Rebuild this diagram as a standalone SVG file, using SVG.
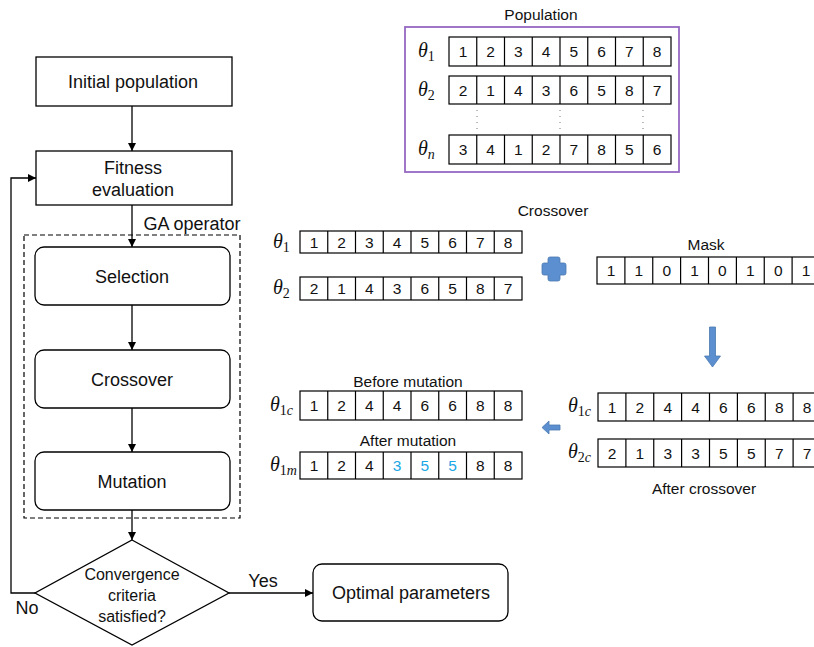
<svg xmlns="http://www.w3.org/2000/svg" width="814" height="647" viewBox="0 0 814 647">
  <defs>
    <style>
      .box { fill: #fff; stroke: #000; stroke-width: 1.3; }
      .cell { fill: #fff; stroke: #000; stroke-width: 1.2; }
      .sep { stroke: #000; stroke-width: 1.2; }
      .t { font-family: "Liberation Sans", Arial, sans-serif; font-size: 18px; fill: #111; text-anchor: middle; }
      .ts { font-size: 16px; }
      .n { font-family: "Liberation Sans", Arial, sans-serif; font-size: 15.5px; fill: #111; text-anchor: middle; }
      .cap { font-family: "Liberation Sans", Arial, sans-serif; font-size: 15.5px; fill: #111; text-anchor: middle; }
      .hi { fill: #1aa7e6; }
      .lbl { font-family: "Liberation Serif", "Times New Roman", serif; font-style: italic; font-size: 20px; fill: #111; }
      .sub { font-size: 14px; }
      .up { font-style: normal; }
      .line { fill: none; stroke: #000; stroke-width: 1.3; }
      .blue { fill: #5b8fd0; stroke: #4a78b0; stroke-width: 0.8; }
    </style>
    <marker id="arr" viewBox="0 0 10 10" refX="10" refY="5" markerWidth="8" markerHeight="8" markerUnits="userSpaceOnUse" orient="auto">
      <path d="M0,0 L10,5 L0,10 z" fill="#000"/>
    </marker>
  </defs>
  <rect width="814" height="647" fill="#fff"/>

  <!-- Flowchart connectors -->
  <g id="connectors">
    <line class="line" x1="132" y1="106" x2="132" y2="151" marker-end="url(#arr)"/>
    <line class="line" x1="132" y1="205" x2="132" y2="247" marker-end="url(#arr)"/>
    <line class="line" x1="132" y1="305" x2="132" y2="350" marker-end="url(#arr)"/>
    <line class="line" x1="132" y1="408" x2="132" y2="452" marker-end="url(#arr)"/>
    <line class="line" x1="132" y1="510" x2="132" y2="540" marker-end="url(#arr)"/>
    <polyline class="line" points="35,593 11,593 11,178 36,178" marker-end="url(#arr)"/>
    <line class="line" x1="229" y1="593" x2="313" y2="593" marker-end="url(#arr)"/>
    <text class="t" x="27" y="614">No</text>
    <text class="t" x="263" y="587">Yes</text>
  </g>

  <!-- GA operator group outline -->
  <g id="ga-operator">
    <rect x="24" y="235" width="216" height="283" fill="none" stroke="#000" stroke-width="1.2" stroke-dasharray="5,3"/>
    <text class="t" x="192" y="230">GA operator</text>
  </g>

  <g id="initial-population">
    <rect class="box" x="36" y="57" width="196" height="49"/>
    <text class="t" x="133" y="88">Initial population</text>
  </g>
  <g id="fitness-evaluation">
    <rect class="box" x="36" y="151" width="196" height="54"/>
    <text class="t" x="133" y="174">Fitness</text>
    <text class="t" x="133" y="196">evaluation</text>
  </g>
  <g id="selection">
    <rect class="box" x="35" y="247" width="195" height="58" rx="9"/>
    <text class="t" x="132" y="283">Selection</text>
  </g>
  <g id="crossover">
    <rect class="box" x="35" y="350" width="195" height="58" rx="9"/>
    <text class="t" x="132" y="386">Crossover</text>
  </g>
  <g id="mutation">
    <rect class="box" x="35" y="452" width="195" height="58" rx="9"/>
    <text class="t" x="132" y="488">Mutation</text>
  </g>
  <g id="convergence">
    <polygon class="box" points="132,540 229,593 132,645 35,593"/>
    <text class="t ts" x="132" y="580">Convergence</text>
    <text class="t ts" x="132" y="601">criteria</text>
    <text class="t ts" x="132" y="622">satisfied?</text>
  </g>
  <g id="optimal-parameters">
    <rect class="box" x="313" y="564" width="195" height="57" rx="9"/>
    <text class="t" x="411" y="599">Optimal parameters</text>
  </g>

  <!-- Population panel -->
  <g id="population">
    <text class="cap" x="541" y="20">Population</text>
    <rect x="405" y="27" width="274" height="145" fill="none" stroke="#9568c2" stroke-width="1.8"/>
    <!-- row theta_1 -->
    <text class="lbl" x="418" y="57">θ<tspan class="sub up" dy="4">1</tspan></text>
    <rect class="cell" x="449" y="37" width="222" height="29"/>
    <path class="sep" d="M476.75,37v29M504.5,37v29M532.25,37v29M560,37v29M587.75,37v29M615.5,37v29M643.25,37v29"/>
    <g class="n">
      <text x="463" y="57">1</text><text x="490.6" y="57">2</text><text x="518.4" y="57">3</text><text x="546.1" y="57">4</text>
      <text x="573.9" y="57">5</text><text x="601.6" y="57">6</text><text x="629.4" y="57">7</text><text x="657.1" y="57">8</text>
    </g>
    <!-- row theta_2 -->
    <text class="lbl" x="418" y="96">θ<tspan class="sub up" dy="4">2</tspan></text>
    <rect class="cell" x="449" y="76" width="222" height="28"/>
    <path class="sep" d="M476.75,76v28M504.5,76v28M532.25,76v28M560,76v28M587.75,76v28M615.5,76v28M643.25,76v28"/>
    <g class="n">
      <text x="463" y="95.5">2</text><text x="490.6" y="95.5">1</text><text x="518.4" y="95.5">4</text><text x="546.1" y="95.5">3</text>
      <text x="573.9" y="95.5">6</text><text x="601.6" y="95.5">5</text><text x="629.4" y="95.5">8</text><text x="657.1" y="95.5">7</text>
    </g>
    <!-- ellipsis -->
    <path d="M477,110v22M560,110v22M643,110v22" stroke="#777" stroke-width="1" stroke-dasharray="1,5"/>
    <!-- row theta_n -->
    <text class="lbl" x="418" y="155">θ<tspan class="sub" dy="4">n</tspan></text>
    <rect class="cell" x="449" y="135" width="222" height="29"/>
    <path class="sep" d="M476.75,135v29M504.5,135v29M532.25,135v29M560,135v29M587.75,135v29M615.5,135v29M643.25,135v29"/>
    <g class="n">
      <text x="463" y="155">3</text><text x="490.6" y="155">4</text><text x="518.4" y="155">1</text><text x="546.1" y="155">2</text>
      <text x="573.9" y="155">7</text><text x="601.6" y="155">8</text><text x="629.4" y="155">5</text><text x="657.1" y="155">6</text>
    </g>
  </g>

  <!-- Crossover parents -->
  <g id="crossover-parents">
    <text class="cap" x="553" y="216">Crossover</text>
    <text class="lbl" x="273" y="248">θ<tspan class="sub up" dy="4">1</tspan></text>
    <rect class="cell" x="300" y="231" width="222" height="22"/>
    <path class="sep" d="M327.75,231v22M355.5,231v22M383.25,231v22M411,231v22M438.75,231v22M466.5,231v22M494.25,231v22"/>
    <g class="n">
      <text x="314" y="247.5">1</text><text x="341.6" y="247.5">2</text><text x="369.4" y="247.5">3</text><text x="397.1" y="247.5">4</text>
      <text x="424.9" y="247.5">5</text><text x="452.6" y="247.5">6</text><text x="480.4" y="247.5">7</text><text x="508.1" y="247.5">8</text>
    </g>
    <text class="lbl" x="273" y="294">θ<tspan class="sub up" dy="4">2</tspan></text>
    <rect class="cell" x="300" y="277" width="222" height="23"/>
    <path class="sep" d="M327.75,277v23M355.5,277v23M383.25,277v23M411,277v23M438.75,277v23M466.5,277v23M494.25,277v23"/>
    <g class="n">
      <text x="314" y="294">2</text><text x="341.6" y="294">1</text><text x="369.4" y="294">4</text><text x="397.1" y="294">3</text>
      <text x="424.9" y="294">6</text><text x="452.6" y="294">5</text><text x="480.4" y="294">8</text><text x="508.1" y="294">7</text>
    </g>
  </g>

  <!-- Plus sign -->
  <path class="blue" d="M550,257h8q2,0 2,2v4h4q2,0 2,2v8q0,2 -2,2h-4v4q0,2 -2,2h-8q-2,0 -2,-2v-4h-4q-2,0 -2,-2v-8q0,-2 2,-2h4v-4q0,-2 2,-2z"/>

  <!-- Mask -->
  <g id="mask">
    <text class="cap" x="706" y="250">Mask</text>
    <rect class="cell" x="597" y="257" width="223" height="27"/>
    <path class="sep" d="M624.9,257v27M652.75,257v27M680.6,257v27M708.5,257v27M736.4,257v27M764.25,257v27M792.1,257v27"/>
    <g class="n">
      <text x="611" y="276">1</text><text x="638.8" y="276">1</text><text x="666.7" y="276">0</text><text x="694.6" y="276">1</text>
      <text x="722.4" y="276">0</text><text x="750.3" y="276">1</text><text x="778.2" y="276">0</text><text x="806" y="276">1</text>
    </g>
  </g>

  <!-- Down arrow -->
  <path class="blue" d="M709.5,327h6v29h5l-8,11l-8,-11h5z"/>

  <!-- After crossover -->
  <g id="after-crossover">
    <text class="lbl" x="568" y="412">θ<tspan class="sub" dy="4"><tspan class="up">1</tspan>c</tspan></text>
    <rect class="cell" x="598" y="393" width="223" height="28"/>
    <path class="sep" d="M625.9,393v28M653.75,393v28M681.6,393v28M709.5,393v28M737.4,393v28M765.25,393v28M793.1,393v28"/>
    <g class="n">
      <text x="612" y="412.5">1</text><text x="639.8" y="412.5">2</text><text x="667.7" y="412.5">4</text><text x="695.6" y="412.5">4</text>
      <text x="723.4" y="412.5">6</text><text x="751.3" y="412.5">6</text><text x="779.2" y="412.5">8</text><text x="807" y="412.5">8</text>
    </g>
    <text class="lbl" x="568" y="458">θ<tspan class="sub" dy="4"><tspan class="up">2</tspan>c</tspan></text>
    <rect class="cell" x="598" y="439" width="223" height="28"/>
    <path class="sep" d="M625.9,439v28M653.75,439v28M681.6,439v28M709.5,439v28M737.4,439v28M765.25,439v28M793.1,439v28"/>
    <g class="n">
      <text x="612" y="458.5">2</text><text x="639.8" y="458.5">1</text><text x="667.7" y="458.5">3</text><text x="695.6" y="458.5">3</text>
      <text x="723.4" y="458.5">5</text><text x="751.3" y="458.5">5</text><text x="779.2" y="458.5">7</text><text x="807" y="458.5">7</text>
    </g>
    <text class="cap" x="704" y="494">After crossover</text>
  </g>

  <!-- Left arrow -->
  <path class="blue" d="M560,425v5h-11v4l-7,-6.5l7,-6.5v4z"/>

  <!-- Mutation example -->
  <g id="mutation-example">
    <text class="cap" x="408" y="387">Before mutation</text>
    <text class="lbl" x="270" y="411">θ<tspan class="sub" dy="4"><tspan class="up">1</tspan>c</tspan></text>
    <rect class="cell" x="300" y="391" width="222" height="29"/>
    <path class="sep" d="M327.75,391v29M355.5,391v29M383.25,391v29M411,391v29M438.75,391v29M466.5,391v29M494.25,391v29"/>
    <g class="n">
      <text x="314" y="411">1</text><text x="341.6" y="411">2</text><text x="369.4" y="411">4</text><text x="397.1" y="411">4</text>
      <text x="424.9" y="411">6</text><text x="452.6" y="411">6</text><text x="480.4" y="411">8</text><text x="508.1" y="411">8</text>
    </g>
    <text class="cap" x="408" y="446">After mutation</text>
    <text class="lbl" x="270" y="471">θ<tspan class="sub" dy="4"><tspan class="up">1</tspan>m</tspan></text>
    <rect class="cell" x="300" y="452" width="222" height="27"/>
    <path class="sep" d="M327.75,452v27M355.5,452v27M383.25,452v27M411,452v27M438.75,452v27M466.5,452v27M494.25,452v27"/>
    <g class="n">
      <text x="314" y="471">1</text><text x="341.6" y="471">2</text><text x="369.4" y="471">4</text>
      <text class="hi" x="397.1" y="471">3</text><text class="hi" x="424.9" y="471">5</text><text class="hi" x="452.6" y="471">5</text>
      <text x="480.4" y="471">8</text><text x="508.1" y="471">8</text>
    </g>
  </g>
</svg>
